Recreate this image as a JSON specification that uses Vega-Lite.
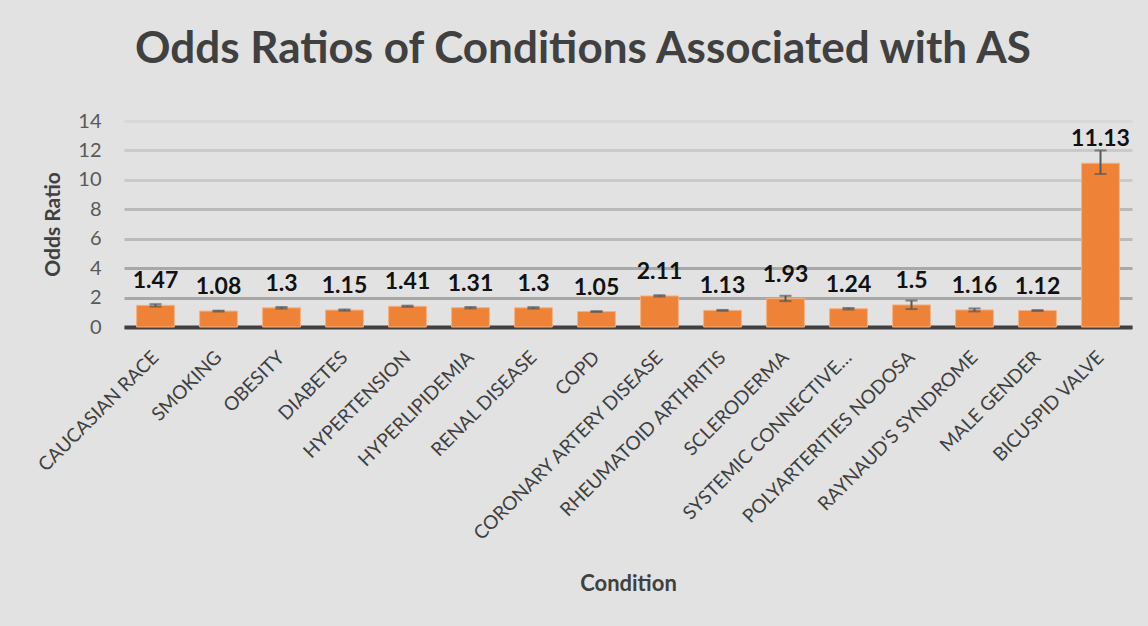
{
  "$schema": "https://vega.github.io/schema/vega-lite/v6.json",
  "width": 1008,
  "height": 206,
  "autosize": {"type": "none"},
  "padding": {"left": 124, "top": 121, "right": 16, "bottom": 299},
  "background": "#e2e2e2",
  "title": {
    "text": "Odds Ratios of Conditions Associated with AS",
    "font": "Lato",
    "fontSize": 44,
    "fontWeight": "bold",
    "color": "#404040",
    "anchor": "middle",
    "frame": "group",
    "baseline": "alphabetic",
    "dx": -45,
    "offset": 4
  },
  "config": {
    "view": {"stroke": null},
    "font": "Lato",
    "axis": {"labelFont": "Lato", "titleFont": "Lato"}
  },
  "data": {
    "values": [
      {"condition": "CAUCASIAN RACE", "or": 1.47, "lo": 1.39, "hi": 1.55},
      {"condition": "SMOKING", "or": 1.08, "lo": 1.05, "hi": 1.11},
      {"condition": "OBESITY", "or": 1.3, "lo": 1.25, "hi": 1.36},
      {"condition": "DIABETES", "or": 1.15, "lo": 1.11, "hi": 1.19},
      {"condition": "HYPERTENSION", "or": 1.41, "lo": 1.37, "hi": 1.45},
      {"condition": "HYPERLIPIDEMIA", "or": 1.31, "lo": 1.26, "hi": 1.36},
      {"condition": "RENAL DISEASE", "or": 1.3, "lo": 1.25, "hi": 1.35},
      {"condition": "COPD", "or": 1.05, "lo": 1.02, "hi": 1.08},
      {"condition": "CORONARY ARTERY DISEASE", "or": 2.11, "lo": 2.07, "hi": 2.16},
      {"condition": "RHEUMATOID ARTHRITIS", "or": 1.13, "lo": 1.1, "hi": 1.16},
      {"condition": "SCLERODERMA", "or": 1.93, "lo": 1.76, "hi": 2.12},
      {"condition": "SYSTEMIC CONNECTIVE…", "or": 1.24, "lo": 1.19, "hi": 1.29},
      {"condition": "POLYARTERITIES NODOSA", "or": 1.5, "lo": 1.22, "hi": 1.8},
      {"condition": "RAYNAUD'S SYNDROME", "or": 1.16, "lo": 1.06, "hi": 1.26},
      {"condition": "MALE GENDER", "or": 1.12, "lo": 1.09, "hi": 1.15},
      {"condition": "BICUSPID VALVE", "or": 11.13, "lo": 10.4, "hi": 12.0}
    ]
  },
  "encoding": {
    "x": {
      "field": "condition",
      "type": "nominal",
      "sort": null,
      "scale": {"paddingInner": 0.4, "paddingOuter": 0.2},
      "axis": {
        "title": "Condition",
        "titleFontSize": 22,
        "titleFontWeight": "bold",
        "titleColor": "#404040",
        "titlePadding": 46,
        "labelAngle": -45,
        "labelAlign": "right",
        "labelBaseline": "middle",
        "labelFontSize": 19,
        "labelColor": "#404040",
        "labelPadding": 27,
        "labelLimit": 400,
        "labelOverlap": false,
        "ticks": false,
        "domainColor": "#404040",
        "domainWidth": 4,
        "grid": false
      }
    }
  },
  "layer": [
    {
      "mark": {"type": "bar", "color": "#EE8236", "stroke": "#F5B081", "strokeWidth": 1},
      "encoding": {
        "y": {
          "field": "or", "type": "quantitative",
          "scale": {"domain": [0, 14], "nice": false},
          "axis": {"title": "Odds Ratio", "values": [0, 2, 4, 6, 8, 10, 12, 14], "labelOverlap": false, "labelFontSize": 20, "labelColor": "#595959", "labelPadding": 23, "ticks": false, "domain": false, "grid": true, "gridWidth": 3, "gridColor": {"condition": [{"test": "datum.value >= 14", "value": "#d8d8d8"}, {"test": "datum.value >= 10", "value": "#cacaca"}, {"test": "datum.value >= 6", "value": "#bababa"}], "value": "#a8a8a8"}, "titleFontSize": 21, "titleFontWeight": "bold", "titleColor": "#404040", "titlePadding": 14}
        }
      }
    },
    {
      "mark": {"type": "rule", "color": "#595959", "strokeWidth": 2},
      "encoding": {
        "y": {
          "field": "lo", "type": "quantitative",
          "axis": {"title": "Odds Ratio", "values": [0, 2, 4, 6, 8, 10, 12, 14], "labelOverlap": false, "labelFontSize": 20, "labelColor": "#595959", "labelPadding": 23, "ticks": false, "domain": false, "grid": true, "gridWidth": 3, "gridColor": {"condition": [{"test": "datum.value >= 14", "value": "#d8d8d8"}, {"test": "datum.value >= 10", "value": "#cacaca"}, {"test": "datum.value >= 6", "value": "#bababa"}], "value": "#a8a8a8"}, "titleFontSize": 21, "titleFontWeight": "bold", "titleColor": "#404040", "titlePadding": 14}
        },
        "y2": {"field": "hi"}
      }
    },
    {
      "mark": {"type": "tick", "color": "#595959", "thickness": 2, "size": 12},
      "encoding": {
        "y": {
          "field": "lo", "type": "quantitative",
          "axis": {"title": "Odds Ratio", "values": [0, 2, 4, 6, 8, 10, 12, 14], "labelOverlap": false, "labelFontSize": 20, "labelColor": "#595959", "labelPadding": 23, "ticks": false, "domain": false, "grid": true, "gridWidth": 3, "gridColor": {"condition": [{"test": "datum.value >= 14", "value": "#d8d8d8"}, {"test": "datum.value >= 10", "value": "#cacaca"}, {"test": "datum.value >= 6", "value": "#bababa"}], "value": "#a8a8a8"}, "titleFontSize": 21, "titleFontWeight": "bold", "titleColor": "#404040", "titlePadding": 14}
        }
      }
    },
    {
      "mark": {"type": "tick", "color": "#595959", "thickness": 2, "size": 12},
      "encoding": {
        "y": {
          "field": "hi", "type": "quantitative",
          "axis": {"title": "Odds Ratio", "values": [0, 2, 4, 6, 8, 10, 12, 14], "labelOverlap": false, "labelFontSize": 20, "labelColor": "#595959", "labelPadding": 23, "ticks": false, "domain": false, "grid": true, "gridWidth": 3, "gridColor": {"condition": [{"test": "datum.value >= 14", "value": "#d8d8d8"}, {"test": "datum.value >= 10", "value": "#cacaca"}, {"test": "datum.value >= 6", "value": "#bababa"}], "value": "#a8a8a8"}, "titleFontSize": 21, "titleFontWeight": "bold", "titleColor": "#404040", "titlePadding": 14}
        }
      }
    },
    {
      "mark": {"type": "text", "font": "Lato", "fontSize": 23, "fontWeight": "bold", "color": "#111111", "baseline": "bottom", "dy": -12},
      "encoding": {
        "y": {
          "field": "or", "type": "quantitative",
          "axis": {"title": "Odds Ratio", "values": [0, 2, 4, 6, 8, 10, 12, 14], "labelOverlap": false, "labelFontSize": 20, "labelColor": "#595959", "labelPadding": 23, "ticks": false, "domain": false, "grid": true, "gridWidth": 3, "gridColor": {"condition": [{"test": "datum.value >= 14", "value": "#d8d8d8"}, {"test": "datum.value >= 10", "value": "#cacaca"}, {"test": "datum.value >= 6", "value": "#bababa"}], "value": "#a8a8a8"}, "titleFontSize": 21, "titleFontWeight": "bold", "titleColor": "#404040", "titlePadding": 14}
        },
        "text": {"field": "or", "type": "quantitative"}
      }
    }
  ]
}
